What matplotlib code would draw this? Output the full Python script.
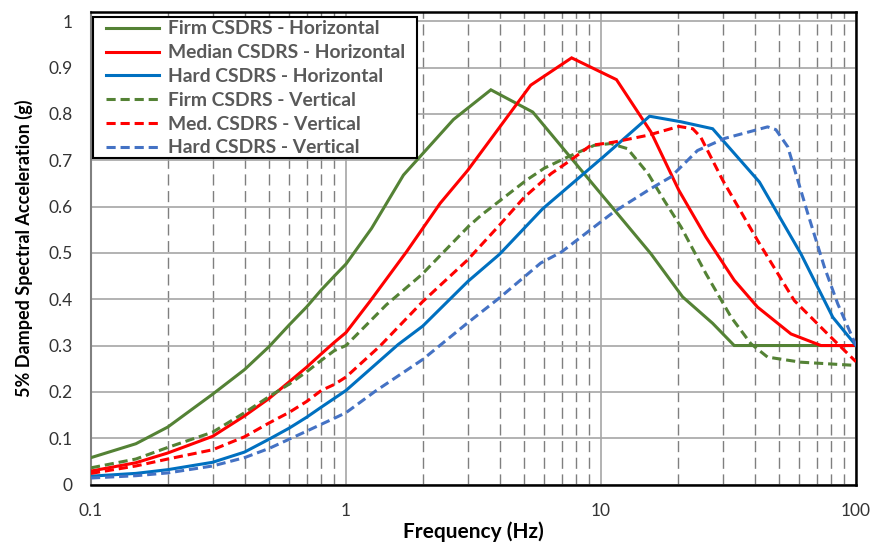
import matplotlib
matplotlib.use("Agg")
import matplotlib.pyplot as plt
from matplotlib.patches import Rectangle
from matplotlib.ticker import LogLocator, FixedLocator, NullFormatter, FixedFormatter

# ---- data ----
firm_h_f = [0.1, 0.15, 0.2, 0.3, 0.4, 0.5, 0.6, 0.7, 0.8, 0.9, 1.0, 1.26, 1.68, 2.64, 3.7, 5.4, 15.7, 20.9, 27.4, 33.3, 100]
firm_h_v = [0.058, 0.088, 0.124, 0.195, 0.248, 0.298, 0.345, 0.383, 0.42, 0.45, 0.476, 0.553, 0.668, 0.788, 0.852, 0.804, 0.498, 0.405, 0.348, 0.300, 0.300]

med_h_f = [0.1, 0.15, 0.2, 0.3, 0.4, 0.5, 0.6, 0.7, 0.8, 0.9, 1.0, 1.24, 1.73, 2.34, 3.0, 5.3, 7.67, 11.5, 15.7, 20.2, 25.8, 33.3, 41.1, 55.6, 72.9, 100]
med_h_v = [0.029, 0.047, 0.068, 0.104, 0.148, 0.186, 0.222, 0.253, 0.282, 0.307, 0.328, 0.395, 0.503, 0.607, 0.678, 0.862, 0.921, 0.874, 0.761, 0.635, 0.534, 0.441, 0.383, 0.325, 0.300, 0.300]

hard_h_f = [0.1, 0.15, 0.2, 0.3, 0.4, 0.5, 0.6, 0.7, 0.8, 0.9, 1.0, 1.6, 2.0, 3.0, 4.0, 5.9, 10.2, 15.5, 20.6, 27.4, 41.8, 60.8, 81.1, 100]
hard_h_v = [0.018, 0.024, 0.032, 0.048, 0.07, 0.098, 0.122, 0.145, 0.167, 0.186, 0.203, 0.302, 0.342, 0.438, 0.497, 0.595, 0.707, 0.795, 0.783, 0.768, 0.653, 0.498, 0.361, 0.300]

firm_v_f = [0.1, 0.15, 0.2, 0.3, 0.4, 0.5, 0.6, 0.7, 0.8, 0.9, 1.0, 1.44, 1.98, 3.02, 3.4, 5.1, 6.0, 7.4, 9.4, 10.9, 12.7, 15.3, 17.7, 20.6, 25.8, 32.4, 38.7, 45, 60.8, 100]
firm_v_v = [0.036, 0.055, 0.08, 0.113, 0.155, 0.19, 0.217, 0.243, 0.268, 0.289, 0.300, 0.388, 0.453, 0.557, 0.582, 0.657, 0.683, 0.707, 0.732, 0.736, 0.725, 0.671, 0.613, 0.556, 0.455, 0.361, 0.304, 0.275, 0.264, 0.257]

med_v_f = [0.1, 0.15, 0.2, 0.3, 0.4, 0.5, 0.6, 0.7, 0.8, 0.9, 1.0, 1.36, 2.0, 3.0, 4.0, 5.0, 6.37, 7.6, 9.1, 11.2, 15.3, 20.2, 22.9, 24.6, 30, 41.1, 57.3, 77.4, 100]
med_v_v = [0.024, 0.04, 0.055, 0.075, 0.103, 0.133, 0.156, 0.179, 0.203, 0.216, 0.232, 0.299, 0.395, 0.485, 0.56, 0.62, 0.671, 0.70, 0.732, 0.739, 0.754, 0.773, 0.768, 0.75, 0.657, 0.527, 0.397, 0.325, 0.265]

hard_v_f = [0.1, 0.15, 0.2, 0.3, 0.4, 0.5, 0.6, 0.7, 0.8, 0.9, 1.0, 1.3, 2.0, 3.0, 4.0, 5.8, 7.0, 11.2, 15.7, 18.8, 23.9, 30.5, 45, 48.5, 54, 64.7, 75.2, 84.8, 100]
hard_v_v = [0.014, 0.019, 0.025, 0.04, 0.058, 0.078, 0.098, 0.115, 0.13, 0.143, 0.155, 0.201, 0.27, 0.349, 0.403, 0.478, 0.502, 0.588, 0.639, 0.664, 0.721, 0.747, 0.772, 0.766, 0.729, 0.585, 0.469, 0.39, 0.30]

labels = ["Firm CSDRS - Horizontal", "Median CSDRS - Horizontal", "Hard CSDRS - Horizontal",
          "Firm CSDRS - Vertical", "Med. CSDRS - Vertical", "Hard CSDRS - Vertical"]

x_ticks = [0.1, 1, 10, 100]
x_tick_labels = ["0.1", "1", "10", "100"]
y_ticks = [0, 0.1, 0.2, 0.3, 0.4, 0.5, 0.6, 0.7, 0.8, 0.9, 1.0]
y_tick_labels = ["0", "0.1", "0.2", "0.3", "0.4", "0.5", "0.6", "0.7", "0.8", "0.9", "1"]

# ---- styling ----
GREEN = "#548235"
RED = "#FF0000"
BLUE = "#0070C0"
LBLUE = "#4472C4"
FONT = ["Lato", "DejaVu Sans"]
plt.rcParams['font.family'] = FONT

W, H = 873, 543
AX_L, AX_R, AX_T, AX_B = 91, 856, 12, 484.5
fig = plt.figure(figsize=(W / 100, H / 100), dpi=100)
ax = fig.add_axes([AX_L / W, 1 - AX_B / H, (AX_R - AX_L) / W, (AX_B - AX_T) / H])
aw, ah = AX_R - AX_L, AX_B - AX_T

series = [
    (firm_h_f, firm_h_v, GREEN, "-"),
    (med_h_f, med_h_v, RED, "-"),
    (hard_h_f, hard_h_v, BLUE, "-"),
    (firm_v_f, firm_v_v, GREEN, (0, (3, 1.6))),
    (med_v_f, med_v_v, RED, (0, (3, 1.6))),
    (hard_v_f, hard_v_v, LBLUE, (0, (3, 1.6))),
]
for (f, v, c, ls), lab in zip(series, labels):
    ax.plot(f, v, color=c, linestyle=ls, linewidth=2.2, label=lab, zorder=3,
            solid_joinstyle="miter", dash_capstyle="butt")

ax.set_xscale("log")
ax.set_xlim(0.1, 100)
ax.set_ylim(0, 1.02)

ax.xaxis.set_major_locator(FixedLocator(x_ticks))
ax.xaxis.set_major_formatter(FixedFormatter(x_tick_labels))
ax.xaxis.set_minor_locator(LogLocator(base=10, subs=range(2, 10)))
ax.xaxis.set_minor_formatter(NullFormatter())
ax.yaxis.set_major_locator(FixedLocator(y_ticks))
ax.yaxis.set_major_formatter(FixedFormatter(y_tick_labels))

ax.grid(True, which="major", axis="both", color="#A6A6A6", linewidth=1.2, linestyle="-", zorder=1)
ax.grid(True, which="minor", axis="x", color="#7F7F7F", linewidth=1.0, linestyle=(0, (8, 4)), zorder=1)
ax.set_axisbelow(True)

ax.tick_params(axis="both", which="both", length=0)
ax.tick_params(axis="y", pad=13, labelsize=12.5, labelcolor="#333333")
ax.tick_params(axis="x", pad=13, labelsize=12.5, labelcolor="#333333")

for side in ["top", "right", "bottom"]:
    ax.spines[side].set_color("black")
    ax.spines[side].set_linewidth(1.8)
ax.spines["left"].set_color("#808080")
ax.spines["left"].set_linewidth(1.5)

ax.set_xlabel("Frequency (Hz)", fontsize=15, fontweight="bold")
ax.xaxis.set_label_coords(0.5, (AX_B - 537.5) / ah)
ax.xaxis.label.set_verticalalignment("baseline")
ax.set_ylabel("5% Damped Spectral Acceleration (g)", fontsize=13, fontweight="bold", labelpad=11)

# legend box (frame drawn separately so the padding can match the reference)
box_l, box_r, box_t, box_b = 93, 417, 17, 158
ax.add_patch(Rectangle(((box_l - AX_L) / aw, (AX_B - box_b) / ah), (box_r - box_l) / aw, (box_b - box_t) / ah,
                       transform=ax.transAxes, facecolor="white", edgecolor="black", linewidth=1.5, zorder=4))
leg = ax.legend(loc="upper left", bbox_to_anchor=((106 - AX_L) / aw, (AX_B - 20.5) / ah), frameon=False,
                borderpad=0, handlelength=2.75, handletextpad=0.45, labelspacing=0.35, borderaxespad=0,
                prop={"family": FONT, "weight": "bold", "size": 13.9})
for t in leg.get_texts():
    t.set_color("#595959")
leg.set_zorder(5)

fig.savefig("out.png", dpi=100)
